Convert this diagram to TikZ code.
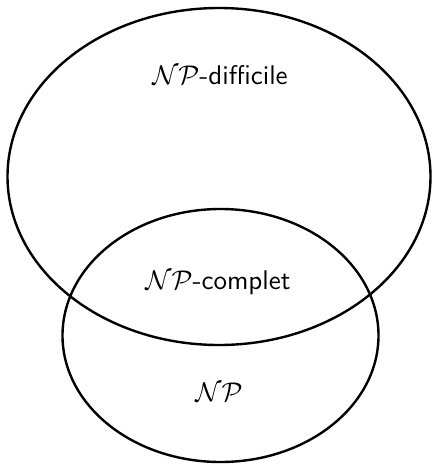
\documentclass[tikz,border=0pt]{standalone}
\usepackage{amsmath,amssymb}
\usepackage{tikz}
\usetikzlibrary{positioning}

\begin{document}
\begin{tikzpicture}[x=1pt,y=-1pt,line width=2.4pt,
    setlabel/.style={font=\sffamily,scale=2.7}]
  \useasboundingbox (0,0) rectangle (432,464);
  % --- the two classes ---
  \draw (219,176.5) ellipse [x radius=211.5, y radius=168.5];
  \draw (220.5,335.5) ellipse [x radius=158, y radius=126.5];
  % --- labels ---
  \node[setlabel] (hard) at (220,75) {$\mathcal{NP}$-difficile};
  \node[setlabel] (complete) at (218,283) {$\mathcal{NP}$-complet};
  \node[setlabel] (np) at (219,392) {$\mathcal{NP}$};
\end{tikzpicture}
\end{document}
